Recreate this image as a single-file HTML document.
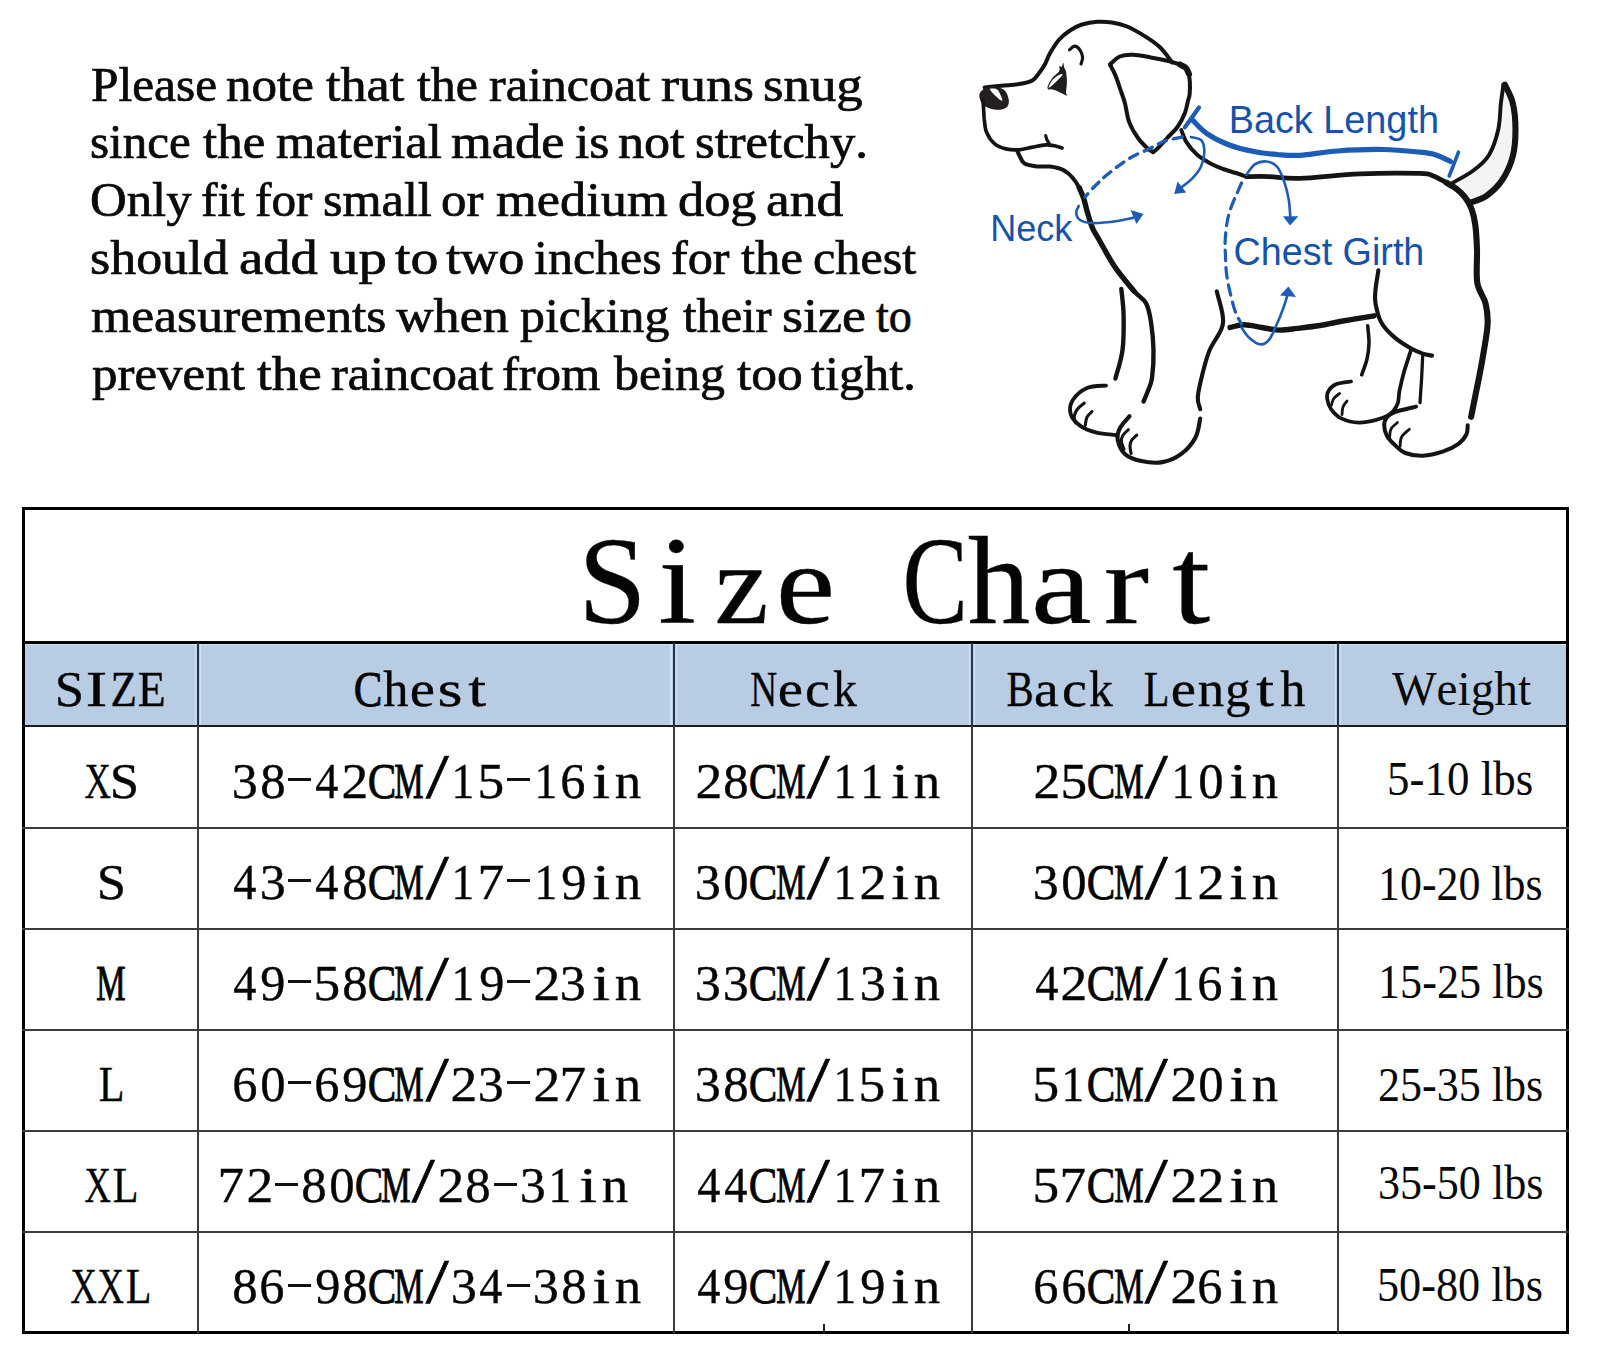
<!DOCTYPE html>
<html><head><meta charset="utf-8"><style>
html,body{margin:0;padding:0;background:#fff;font-kerning:none;font-variant-ligatures:none;}
body{width:1600px;height:1358px;position:relative;overflow:hidden;}
.t,.m,.r{position:absolute;white-space:pre;}
.t{font-family:"Liberation Serif",serif;line-height:1;color:#0a0a0a;transform-origin:0 0;}
.m{font-family:"Liberation Serif",serif;line-height:1;color:#050505;-webkit-text-stroke:0.35px #050505;}
.p{color:#0a0a0a;-webkit-text-stroke:0.75px #0a0a0a;}
.s{font-family:"Liberation Sans",sans-serif;}
</style></head><body>
<div class="r" style="left:25.0px;top:643.5px;width:1541.0px;height:82.0px;background:#b8cce4"></div>
<div class="r" style="left:25.0px;top:643.6px;width:1541.0px;height:1.6px;background:#d3e1f3"></div>
<div class="r" style="left:194.8px;top:644.0px;width:1.2px;height:81.0px;background:#d3e1f3"></div>
<div class="r" style="left:200.0px;top:644.0px;width:1.2px;height:81.0px;background:#d3e1f3"></div>
<div class="r" style="left:670.4px;top:644.0px;width:1.2px;height:81.0px;background:#d3e1f3"></div>
<div class="r" style="left:675.6px;top:644.0px;width:1.2px;height:81.0px;background:#d3e1f3"></div>
<div class="r" style="left:968.9px;top:644.0px;width:1.2px;height:81.0px;background:#d3e1f3"></div>
<div class="r" style="left:974.1px;top:644.0px;width:1.2px;height:81.0px;background:#d3e1f3"></div>
<div class="r" style="left:1334.6px;top:644.0px;width:1.2px;height:81.0px;background:#d3e1f3"></div>
<div class="r" style="left:1339.8px;top:644.0px;width:1.2px;height:81.0px;background:#d3e1f3"></div>
<div class="r" style="left:22.0px;top:507.0px;width:1547.0px;height:3.0px;background:#000"></div>
<div class="r" style="left:22.0px;top:1331.0px;width:1547.0px;height:3.0px;background:#000"></div>
<div class="r" style="left:22.0px;top:507.0px;width:3.0px;height:827.0px;background:#000"></div>
<div class="r" style="left:1566.0px;top:507.0px;width:3.0px;height:827.0px;background:#000"></div>
<div class="r" style="left:22.0px;top:641.0px;width:1547.0px;height:2.6px;background:#000"></div>
<div class="r" style="left:22.0px;top:725.0px;width:1547.0px;height:2.0px;background:#1a1a1a"></div>
<div class="r" style="left:22.0px;top:826.6px;width:1547.0px;height:2.2px;background:#3c3c3c"></div>
<div class="r" style="left:22.0px;top:927.6px;width:1547.0px;height:2.2px;background:#3c3c3c"></div>
<div class="r" style="left:22.0px;top:1028.7px;width:1547.0px;height:2.2px;background:#3c3c3c"></div>
<div class="r" style="left:22.0px;top:1129.8px;width:1547.0px;height:2.2px;background:#3c3c3c"></div>
<div class="r" style="left:22.0px;top:1230.8px;width:1547.0px;height:2.2px;background:#3c3c3c"></div>
<div class="r" style="left:196.9px;top:643.0px;width:2.2px;height:83.0px;background:#2a3748"></div>
<div class="r" style="left:196.9px;top:726.0px;width:2.2px;height:607.0px;background:#3c3c3c"></div>
<div class="r" style="left:672.5px;top:643.0px;width:2.2px;height:83.0px;background:#2a3748"></div>
<div class="r" style="left:672.5px;top:726.0px;width:2.2px;height:607.0px;background:#3c3c3c"></div>
<div class="r" style="left:971.0px;top:643.0px;width:2.2px;height:83.0px;background:#2a3748"></div>
<div class="r" style="left:971.0px;top:726.0px;width:2.2px;height:607.0px;background:#3c3c3c"></div>
<div class="r" style="left:1336.7px;top:643.0px;width:2.2px;height:83.0px;background:#2a3748"></div>
<div class="r" style="left:1336.7px;top:726.0px;width:2.2px;height:607.0px;background:#3c3c3c"></div>
<div class="r" style="left:823.1px;top:1323.5px;width:2.0px;height:8.5px;background:#202020"></div>
<div class="r" style="left:1128.0px;top:1323.5px;width:2.0px;height:8.5px;background:#202020"></div>
<div class="t p" style="left:90.58px;top:58.66px;font-size:50.20px;transform-origin:0 42.04px;transform:scale(0.9835,0.955)">Please</div>
<div class="t p" style="left:226.33px;top:58.66px;font-size:50.20px;transform-origin:0 42.04px;transform:scale(1.0175,0.955)">note</div>
<div class="t p" style="left:325.74px;top:58.66px;font-size:50.20px;transform-origin:0 42.04px;transform:scale(1.0404,0.955)">that</div>
<div class="t p" style="left:417.01px;top:58.66px;font-size:50.20px;transform-origin:0 42.04px;transform:scale(0.9941,0.955)">the</div>
<div class="t p" style="left:489.00px;top:58.66px;font-size:50.20px;transform-origin:0 42.04px;transform:scale(0.9978,0.955)">raincoat</div>
<div class="t p" style="left:661.42px;top:58.66px;font-size:50.20px;transform-origin:0 42.04px;transform:scale(1.0761,0.955)">runs</div>
<div class="t p" style="left:762.84px;top:58.66px;font-size:50.20px;transform-origin:0 42.04px;transform:scale(1.0510,0.955)">snug</div>
<div class="t p" style="left:90.49px;top:116.46px;font-size:50.20px;transform-origin:0 42.04px;transform:scale(0.9764,0.955)">since</div>
<div class="t p" style="left:203.25px;top:116.46px;font-size:50.20px;transform-origin:0 42.04px;transform:scale(1.0153,0.955)">the</div>
<div class="t p" style="left:276.44px;top:116.46px;font-size:50.20px;transform-origin:0 42.04px;transform:scale(1.0084,0.955)">material</div>
<div class="t p" style="left:451.40px;top:116.46px;font-size:50.20px;transform-origin:0 42.04px;transform:scale(1.0452,0.955)">made</div>
<div class="t p" style="left:575.02px;top:116.46px;font-size:50.20px;transform-origin:0 42.04px;transform:scale(1.0289,0.955)">is</div>
<div class="t p" style="left:617.90px;top:116.46px;font-size:50.20px;transform-origin:0 42.04px;transform:scale(1.0383,0.955)">not</div>
<div class="t p" style="left:694.92px;top:116.46px;font-size:50.20px;transform-origin:0 42.04px;transform:scale(1.0085,0.955)">stretchy.</div>
<div class="t p" style="left:89.92px;top:174.26px;font-size:50.20px;transform-origin:0 42.04px;transform:scale(1.0113,0.955)">Only</div>
<div class="t p" style="left:201.48px;top:174.26px;font-size:50.20px;transform-origin:0 42.04px;transform:scale(0.9819,0.955)">fit</div>
<div class="t p" style="left:255.48px;top:174.26px;font-size:50.20px;transform-origin:0 42.04px;transform:scale(0.9815,0.955)">for</div>
<div class="t p" style="left:323.44px;top:174.26px;font-size:50.20px;transform-origin:0 42.04px;transform:scale(1.0005,0.955)">small</div>
<div class="t p" style="left:440.56px;top:174.26px;font-size:50.20px;transform-origin:0 42.04px;transform:scale(1.0136,0.955)">or</div>
<div class="t p" style="left:496.10px;top:174.26px;font-size:50.20px;transform-origin:0 42.04px;transform:scale(1.0437,0.955)">medium</div>
<div class="t p" style="left:677.51px;top:174.26px;font-size:50.20px;transform-origin:0 42.04px;transform:scale(1.0423,0.955)">dog</div>
<div class="t p" style="left:766.12px;top:174.26px;font-size:50.20px;transform-origin:0 42.04px;transform:scale(1.0641,0.955)">and</div>
<div class="t p" style="left:90.22px;top:232.06px;font-size:50.20px;transform-origin:0 42.04px;transform:scale(1.0338,0.955)">should</div>
<div class="t p" style="left:239.28px;top:232.06px;font-size:50.20px;transform-origin:0 42.04px;transform:scale(1.0855,0.955)">add</div>
<div class="t p" style="left:329.65px;top:232.06px;font-size:50.20px;transform-origin:0 42.04px;transform:scale(1.1308,0.955)">up</div>
<div class="t p" style="left:395.46px;top:232.06px;font-size:50.20px;transform-origin:0 42.04px;transform:scale(1.1107,0.955)">to</div>
<div class="t p" style="left:446.39px;top:232.06px;font-size:50.20px;transform-origin:0 42.04px;transform:scale(1.0398,0.955)">two</div>
<div class="t p" style="left:533.95px;top:232.06px;font-size:50.20px;transform-origin:0 42.04px;transform:scale(0.9962,0.955)">inches</div>
<div class="t p" style="left:671.25px;top:232.06px;font-size:50.20px;transform-origin:0 42.04px;transform:scale(1.0009,0.955)">for</div>
<div class="t p" style="left:741.20px;top:232.06px;font-size:50.20px;transform-origin:0 42.04px;transform:scale(1.0102,0.955)">the</div>
<div class="t p" style="left:813.29px;top:232.06px;font-size:50.20px;transform-origin:0 42.04px;transform:scale(1.0006,0.955)">chest</div>
<div class="t p" style="left:90.52px;top:289.86px;font-size:50.20px;transform-origin:0 42.04px;transform:scale(1.0292,0.955)">measurements</div>
<div class="t p" style="left:395.55px;top:289.86px;font-size:50.20px;transform-origin:0 42.04px;transform:scale(1.0378,0.955)">when</div>
<div class="t p" style="left:520.20px;top:289.86px;font-size:50.20px;transform-origin:0 42.04px;transform:scale(0.9919,0.955)">picking</div>
<div class="t p" style="left:682.53px;top:289.86px;font-size:50.20px;transform-origin:0 42.04px;transform:scale(0.9642,0.955)">their</div>
<div class="t p" style="left:782.08px;top:289.86px;font-size:50.20px;transform-origin:0 42.04px;transform:scale(1.0775,0.955)">size</div>
<div class="t p" style="left:875.65px;top:289.86px;font-size:50.20px;transform-origin:0 42.04px;transform:scale(0.9196,0.955)">to</div>
<div class="t p" style="left:91.88px;top:347.66px;font-size:50.20px;transform-origin:0 42.04px;transform:scale(1.0159,0.955)">prevent</div>
<div class="t p" style="left:257.18px;top:347.66px;font-size:50.20px;transform-origin:0 42.04px;transform:scale(1.0559,0.955)">the</div>
<div class="t p" style="left:331.49px;top:347.66px;font-size:50.20px;transform-origin:0 42.04px;transform:scale(1.0034,0.955)">raincoat</div>
<div class="t p" style="left:502.44px;top:347.66px;font-size:50.20px;transform-origin:0 42.04px;transform:scale(1.0078,0.955)">from</div>
<div class="t p" style="left:613.80px;top:347.66px;font-size:50.20px;transform-origin:0 42.04px;transform:scale(0.9948,0.955)">being</div>
<div class="t p" style="left:737.00px;top:347.66px;font-size:50.20px;transform-origin:0 42.04px;transform:scale(1.0252,0.955)">too</div>
<div class="t p" style="left:811.31px;top:347.66px;font-size:50.20px;transform-origin:0 42.04px;transform:scale(1.0021,0.955)">tight.</div>
<span class="m" style="left:577.97px;top:520.16px;font-size:124.0px;transform-origin:34.78px 103.85px;transform:scale(0.991,1.000);">S</span>
<span class="m" style="left:659.70px;top:520.16px;font-size:124.0px;transform-origin:17.35px 103.85px;transform:scale(1.100,1.000);">i</span>
<span class="m" style="left:713.89px;top:520.16px;font-size:124.0px;transform-origin:27.46px 103.85px;transform:scale(0.984,0.930);">z</span>
<span class="m" style="left:777.86px;top:520.16px;font-size:124.0px;transform-origin:27.79px 103.85px;transform:scale(1.079,0.930);">e</span>
<span class="m" style="left:893.77px;top:520.16px;font-size:124.0px;transform-origin:40.48px 103.85px;transform:scale(0.791,1.000);">C</span>
<span class="m" style="left:967.76px;top:520.16px;font-size:124.0px;transform-origin:30.79px 103.85px;transform:scale(1.006,1.000);">h</span>
<span class="m" style="left:1034.00px;top:520.16px;font-size:124.0px;transform-origin:28.85px 103.85px;transform:scale(1.100,0.930);">a</span>
<span class="m" style="left:1105.81px;top:520.16px;font-size:124.0px;transform-origin:21.34px 103.85px;transform:scale(1.100,0.930);">r</span>
<span class="m" style="left:1173.98px;top:520.16px;font-size:124.0px;transform-origin:17.47px 103.85px;transform:scale(1.100,1.000);">t</span>
<span class="m" style="left:54.60px;top:663.07px;font-size:51.5px;transform-origin:14.45px 43.13px;transform:scale(1.023,1.000);">S</span>
<span class="m" style="left:87.80px;top:663.07px;font-size:51.5px;transform-origin:8.60px 43.13px;transform:scale(1.250,1.000);">I</span>
<span class="m" style="left:108.20px;top:663.07px;font-size:51.5px;transform-origin:15.55px 43.13px;transform:scale(0.840,1.000);">Z</span>
<span class="m" style="left:135.91px;top:663.07px;font-size:51.5px;transform-origin:15.19px 43.13px;transform:scale(0.890,1.000);">E</span>
<span class="m" style="left:351.44px;top:663.07px;font-size:51.5px;transform-origin:16.81px 43.13px;transform:scale(0.833,1.000);-webkit-text-stroke:0.8px #050505;">C</span>
<span class="m" style="left:382.81px;top:663.07px;font-size:51.5px;transform-origin:12.79px 43.13px;transform:scale(0.977,1.000);">h</span>
<span class="m" style="left:411.41px;top:663.07px;font-size:51.5px;transform-origin:11.54px 43.13px;transform:scale(1.102,1.000);">e</span>
<span class="m" style="left:440.15px;top:663.07px;font-size:51.5px;transform-origin:10.15px 43.13px;transform:scale(1.250,1.000);">s</span>
<span class="m" style="left:470.40px;top:663.07px;font-size:51.5px;transform-origin:7.25px 43.13px;transform:scale(1.250,1.000);">t</span>
<span class="m" style="left:744.65px;top:663.07px;font-size:51.5px;transform-origin:18.75px 43.13px;transform:scale(0.724,1.000);">N</span>
<span class="m" style="left:779.21px;top:663.07px;font-size:51.5px;transform-origin:11.54px 43.13px;transform:scale(1.102,1.000);">e</span>
<span class="m" style="left:806.48px;top:663.07px;font-size:51.5px;transform-origin:11.62px 43.13px;transform:scale(1.087,1.000);">c</span>
<span class="m" style="left:832.08px;top:663.07px;font-size:51.5px;transform-origin:13.37px 43.13px;transform:scale(0.929,1.000);">k</span>
<span class="m" style="left:1002.84px;top:663.07px;font-size:51.5px;transform-origin:16.66px 43.13px;transform:scale(0.791,1.000);">B</span>
<span class="m" style="left:1034.87px;top:663.07px;font-size:51.5px;transform-origin:11.98px 43.13px;transform:scale(1.081,1.000);">a</span>
<span class="m" style="left:1062.58px;top:663.07px;font-size:51.5px;transform-origin:11.62px 43.13px;transform:scale(1.087,1.000);">c</span>
<span class="m" style="left:1088.18px;top:663.07px;font-size:51.5px;transform-origin:13.37px 43.13px;transform:scale(0.929,1.000);">k</span>
<span class="m" style="left:1141.33px;top:663.07px;font-size:51.5px;transform-origin:14.92px 43.13px;transform:scale(0.818,1.000);">L</span>
<span class="m" style="left:1172.06px;top:663.07px;font-size:51.5px;transform-origin:11.54px 43.13px;transform:scale(1.102,1.000);">e</span>
<span class="m" style="left:1197.87px;top:663.07px;font-size:51.5px;transform-origin:13.08px 43.13px;transform:scale(1.026,1.000);">n</span>
<span class="m" style="left:1224.81px;top:663.07px;font-size:51.5px;transform-origin:13.49px 43.13px;transform:scale(0.975,1.000);">g</span>
<span class="m" style="left:1258.40px;top:663.07px;font-size:51.5px;transform-origin:7.25px 43.13px;transform:scale(1.250,1.000);">t</span>
<span class="m" style="left:1280.21px;top:663.07px;font-size:51.5px;transform-origin:12.79px 43.13px;transform:scale(0.977,1.000);">h</span>
<span class="m" style="left:78.63px;top:755.17px;font-size:51.5px;transform-origin:18.70px 43.13px;transform:scale(0.712,1.000);">X</span>
<span class="m" style="left:110.23px;top:755.17px;font-size:51.5px;transform-origin:14.45px 43.13px;transform:scale(1.023,1.000);">S</span>
<span class="m" style="left:232.15px;top:755.17px;font-size:51.5px;transform-origin:13.10px 43.13px;transform:scale(1.011,1.000);">3</span>
<span class="m" style="left:259.73px;top:755.17px;font-size:51.5px;transform-origin:12.88px 43.13px;transform:scale(0.985,1.000);">8</span>
<div class="r" style="left:288.45px;top:778.30px;width:23.00px;height:3.00px;background:#111"></div>
<span class="m" style="left:314.32px;top:755.17px;font-size:51.5px;transform-origin:12.98px 43.13px;transform:scale(0.898,1.000);">4</span>
<span class="m" style="left:342.06px;top:755.17px;font-size:51.5px;transform-origin:12.59px 43.13px;transform:scale(1.041,1.000);">2</span>
<span class="m" style="left:365.19px;top:755.17px;font-size:51.5px;transform-origin:16.81px 43.13px;transform:scale(0.833,1.000);-webkit-text-stroke:0.8px #050505;">C</span>
<span class="m" style="left:386.47px;top:755.17px;font-size:51.5px;transform-origin:22.88px 43.13px;transform:scale(0.640,1.000);-webkit-text-stroke:1.1px #050505;">M</span>
<span class="m" style="left:429.55px;top:755.17px;font-size:51.5px;transform-origin:7.15px 43.13px;transform:scale(1.607,1.220);-webkit-text-stroke:0.5px #050505;">/</span>
<span class="m" style="left:450.46px;top:755.17px;font-size:51.5px;transform-origin:13.59px 43.13px;transform:scale(0.882,1.000);">1</span>
<span class="m" style="left:478.03px;top:755.17px;font-size:51.5px;transform-origin:13.37px 43.13px;transform:scale(1.036,1.000);">5</span>
<div class="r" style="left:507.25px;top:778.30px;width:23.00px;height:3.00px;background:#111"></div>
<span class="m" style="left:532.51px;top:755.17px;font-size:51.5px;transform-origin:13.59px 43.13px;transform:scale(0.882,1.000);">1</span>
<span class="m" style="left:560.24px;top:755.17px;font-size:51.5px;transform-origin:13.21px 43.13px;transform:scale(0.977,1.000);">6</span>
<span class="m" style="left:593.60px;top:755.17px;font-size:51.5px;transform-origin:7.20px 43.13px;transform:scale(1.250,1.000);">i</span>
<span class="m" style="left:615.07px;top:755.17px;font-size:51.5px;transform-origin:13.08px 43.13px;transform:scale(1.026,1.000);">n</span>
<span class="m" style="left:695.96px;top:755.17px;font-size:51.5px;transform-origin:12.59px 43.13px;transform:scale(1.041,1.000);">2</span>
<span class="m" style="left:723.02px;top:755.17px;font-size:51.5px;transform-origin:12.88px 43.13px;transform:scale(0.985,1.000);">8</span>
<span class="m" style="left:746.44px;top:755.17px;font-size:51.5px;transform-origin:16.81px 43.13px;transform:scale(0.833,1.000);-webkit-text-stroke:0.8px #050505;">C</span>
<span class="m" style="left:767.72px;top:755.17px;font-size:51.5px;transform-origin:22.88px 43.13px;transform:scale(0.640,1.000);-webkit-text-stroke:1.1px #050505;">M</span>
<span class="m" style="left:810.80px;top:755.17px;font-size:51.5px;transform-origin:7.15px 43.13px;transform:scale(1.607,1.220);-webkit-text-stroke:0.5px #050505;">/</span>
<span class="m" style="left:831.71px;top:755.17px;font-size:51.5px;transform-origin:13.59px 43.13px;transform:scale(0.882,1.000);">1</span>
<span class="m" style="left:859.06px;top:755.17px;font-size:51.5px;transform-origin:13.59px 43.13px;transform:scale(0.882,1.000);">1</span>
<span class="m" style="left:892.80px;top:755.17px;font-size:51.5px;transform-origin:7.20px 43.13px;transform:scale(1.250,1.000);">i</span>
<span class="m" style="left:914.27px;top:755.17px;font-size:51.5px;transform-origin:13.08px 43.13px;transform:scale(1.026,1.000);">n</span>
<span class="m" style="left:1033.96px;top:755.17px;font-size:51.5px;transform-origin:12.59px 43.13px;transform:scale(1.041,1.000);">2</span>
<span class="m" style="left:1060.53px;top:755.17px;font-size:51.5px;transform-origin:13.37px 43.13px;transform:scale(1.036,1.000);">5</span>
<span class="m" style="left:1084.44px;top:755.17px;font-size:51.5px;transform-origin:16.81px 43.13px;transform:scale(0.833,1.000);-webkit-text-stroke:0.8px #050505;">C</span>
<span class="m" style="left:1105.72px;top:755.17px;font-size:51.5px;transform-origin:22.88px 43.13px;transform:scale(0.640,1.000);-webkit-text-stroke:1.1px #050505;">M</span>
<span class="m" style="left:1148.80px;top:755.17px;font-size:51.5px;transform-origin:7.15px 43.13px;transform:scale(1.607,1.220);-webkit-text-stroke:0.5px #050505;">/</span>
<span class="m" style="left:1169.71px;top:755.17px;font-size:51.5px;transform-origin:13.59px 43.13px;transform:scale(0.882,1.000);">1</span>
<span class="m" style="left:1197.77px;top:755.17px;font-size:51.5px;transform-origin:12.88px 43.13px;transform:scale(0.985,1.000);">0</span>
<span class="m" style="left:1230.80px;top:755.17px;font-size:51.5px;transform-origin:7.20px 43.13px;transform:scale(1.250,1.000);">i</span>
<span class="m" style="left:1252.27px;top:755.17px;font-size:51.5px;transform-origin:13.08px 43.13px;transform:scale(1.026,1.000);">n</span>
<div class="t" style="left:1387.39px;top:754.60px;font-size:48.0px;transform:scaleX(0.9368)">5-10 lbs</div>
<span class="m" style="left:96.55px;top:856.22px;font-size:51.5px;transform-origin:14.45px 43.13px;transform:scale(1.023,1.000);">S</span>
<span class="m" style="left:232.27px;top:856.22px;font-size:51.5px;transform-origin:12.98px 43.13px;transform:scale(0.898,1.000);">4</span>
<span class="m" style="left:259.50px;top:856.22px;font-size:51.5px;transform-origin:13.10px 43.13px;transform:scale(1.011,1.000);">3</span>
<div class="r" style="left:288.45px;top:879.35px;width:23.00px;height:3.00px;background:#111"></div>
<span class="m" style="left:314.32px;top:856.22px;font-size:51.5px;transform-origin:12.98px 43.13px;transform:scale(0.898,1.000);">4</span>
<span class="m" style="left:341.78px;top:856.22px;font-size:51.5px;transform-origin:12.88px 43.13px;transform:scale(0.985,1.000);">8</span>
<span class="m" style="left:365.19px;top:856.22px;font-size:51.5px;transform-origin:16.81px 43.13px;transform:scale(0.833,1.000);-webkit-text-stroke:0.8px #050505;">C</span>
<span class="m" style="left:386.47px;top:856.22px;font-size:51.5px;transform-origin:22.88px 43.13px;transform:scale(0.640,1.000);-webkit-text-stroke:1.1px #050505;">M</span>
<span class="m" style="left:429.55px;top:856.22px;font-size:51.5px;transform-origin:7.15px 43.13px;transform:scale(1.607,1.220);-webkit-text-stroke:0.5px #050505;">/</span>
<span class="m" style="left:450.46px;top:856.22px;font-size:51.5px;transform-origin:13.59px 43.13px;transform:scale(0.882,1.000);">1</span>
<span class="m" style="left:477.57px;top:856.22px;font-size:51.5px;transform-origin:13.83px 43.13px;transform:scale(1.030,1.000);">7</span>
<div class="r" style="left:507.25px;top:879.35px;width:23.00px;height:3.00px;background:#111"></div>
<span class="m" style="left:532.51px;top:856.22px;font-size:51.5px;transform-origin:13.59px 43.13px;transform:scale(0.882,1.000);">1</span>
<span class="m" style="left:560.80px;top:856.22px;font-size:51.5px;transform-origin:12.65px 43.13px;transform:scale(0.978,1.000);">9</span>
<span class="m" style="left:593.60px;top:856.22px;font-size:51.5px;transform-origin:7.20px 43.13px;transform:scale(1.250,1.000);">i</span>
<span class="m" style="left:615.07px;top:856.22px;font-size:51.5px;transform-origin:13.08px 43.13px;transform:scale(1.026,1.000);">n</span>
<span class="m" style="left:695.45px;top:856.22px;font-size:51.5px;transform-origin:13.10px 43.13px;transform:scale(1.011,1.000);">3</span>
<span class="m" style="left:723.02px;top:856.22px;font-size:51.5px;transform-origin:12.88px 43.13px;transform:scale(0.985,1.000);">0</span>
<span class="m" style="left:746.44px;top:856.22px;font-size:51.5px;transform-origin:16.81px 43.13px;transform:scale(0.833,1.000);-webkit-text-stroke:0.8px #050505;">C</span>
<span class="m" style="left:767.72px;top:856.22px;font-size:51.5px;transform-origin:22.88px 43.13px;transform:scale(0.640,1.000);-webkit-text-stroke:1.1px #050505;">M</span>
<span class="m" style="left:810.80px;top:856.22px;font-size:51.5px;transform-origin:7.15px 43.13px;transform:scale(1.607,1.220);-webkit-text-stroke:0.5px #050505;">/</span>
<span class="m" style="left:831.71px;top:856.22px;font-size:51.5px;transform-origin:13.59px 43.13px;transform:scale(0.882,1.000);">1</span>
<span class="m" style="left:860.06px;top:856.22px;font-size:51.5px;transform-origin:12.59px 43.13px;transform:scale(1.041,1.000);">2</span>
<span class="m" style="left:892.80px;top:856.22px;font-size:51.5px;transform-origin:7.20px 43.13px;transform:scale(1.250,1.000);">i</span>
<span class="m" style="left:914.27px;top:856.22px;font-size:51.5px;transform-origin:13.08px 43.13px;transform:scale(1.026,1.000);">n</span>
<span class="m" style="left:1033.45px;top:856.22px;font-size:51.5px;transform-origin:13.10px 43.13px;transform:scale(1.011,1.000);">3</span>
<span class="m" style="left:1061.02px;top:856.22px;font-size:51.5px;transform-origin:12.88px 43.13px;transform:scale(0.985,1.000);">0</span>
<span class="m" style="left:1084.44px;top:856.22px;font-size:51.5px;transform-origin:16.81px 43.13px;transform:scale(0.833,1.000);-webkit-text-stroke:0.8px #050505;">C</span>
<span class="m" style="left:1105.72px;top:856.22px;font-size:51.5px;transform-origin:22.88px 43.13px;transform:scale(0.640,1.000);-webkit-text-stroke:1.1px #050505;">M</span>
<span class="m" style="left:1148.80px;top:856.22px;font-size:51.5px;transform-origin:7.15px 43.13px;transform:scale(1.607,1.220);-webkit-text-stroke:0.5px #050505;">/</span>
<span class="m" style="left:1169.71px;top:856.22px;font-size:51.5px;transform-origin:13.59px 43.13px;transform:scale(0.882,1.000);">1</span>
<span class="m" style="left:1198.06px;top:856.22px;font-size:51.5px;transform-origin:12.59px 43.13px;transform:scale(1.041,1.000);">2</span>
<span class="m" style="left:1230.80px;top:856.22px;font-size:51.5px;transform-origin:7.20px 43.13px;transform:scale(1.250,1.000);">i</span>
<span class="m" style="left:1252.27px;top:856.22px;font-size:51.5px;transform-origin:13.08px 43.13px;transform:scale(1.026,1.000);">n</span>
<div class="t" style="left:1377.64px;top:859.50px;font-size:48.0px;transform:scaleX(0.9141)">10-20 lbs</div>
<span class="m" style="left:88.12px;top:957.27px;font-size:51.5px;transform-origin:22.88px 43.13px;transform:scale(0.640,1.000);-webkit-text-stroke:1.1px #050505;">M</span>
<span class="m" style="left:232.27px;top:957.27px;font-size:51.5px;transform-origin:12.98px 43.13px;transform:scale(0.898,1.000);">4</span>
<span class="m" style="left:259.95px;top:957.27px;font-size:51.5px;transform-origin:12.65px 43.13px;transform:scale(0.978,1.000);">9</span>
<div class="r" style="left:288.45px;top:980.40px;width:23.00px;height:3.00px;background:#111"></div>
<span class="m" style="left:313.93px;top:957.27px;font-size:51.5px;transform-origin:13.37px 43.13px;transform:scale(1.036,1.000);">5</span>
<span class="m" style="left:341.78px;top:957.27px;font-size:51.5px;transform-origin:12.88px 43.13px;transform:scale(0.985,1.000);">8</span>
<span class="m" style="left:365.19px;top:957.27px;font-size:51.5px;transform-origin:16.81px 43.13px;transform:scale(0.833,1.000);-webkit-text-stroke:0.8px #050505;">C</span>
<span class="m" style="left:386.47px;top:957.27px;font-size:51.5px;transform-origin:22.88px 43.13px;transform:scale(0.640,1.000);-webkit-text-stroke:1.1px #050505;">M</span>
<span class="m" style="left:429.55px;top:957.27px;font-size:51.5px;transform-origin:7.15px 43.13px;transform:scale(1.607,1.220);-webkit-text-stroke:0.5px #050505;">/</span>
<span class="m" style="left:450.46px;top:957.27px;font-size:51.5px;transform-origin:13.59px 43.13px;transform:scale(0.882,1.000);">1</span>
<span class="m" style="left:478.75px;top:957.27px;font-size:51.5px;transform-origin:12.65px 43.13px;transform:scale(0.978,1.000);">9</span>
<div class="r" style="left:507.25px;top:980.40px;width:23.00px;height:3.00px;background:#111"></div>
<span class="m" style="left:533.51px;top:957.27px;font-size:51.5px;transform-origin:12.59px 43.13px;transform:scale(1.041,1.000);">2</span>
<span class="m" style="left:560.35px;top:957.27px;font-size:51.5px;transform-origin:13.10px 43.13px;transform:scale(1.011,1.000);">3</span>
<span class="m" style="left:593.60px;top:957.27px;font-size:51.5px;transform-origin:7.20px 43.13px;transform:scale(1.250,1.000);">i</span>
<span class="m" style="left:615.07px;top:957.27px;font-size:51.5px;transform-origin:13.08px 43.13px;transform:scale(1.026,1.000);">n</span>
<span class="m" style="left:695.45px;top:957.27px;font-size:51.5px;transform-origin:13.10px 43.13px;transform:scale(1.011,1.000);">3</span>
<span class="m" style="left:722.80px;top:957.27px;font-size:51.5px;transform-origin:13.10px 43.13px;transform:scale(1.011,1.000);">3</span>
<span class="m" style="left:746.44px;top:957.27px;font-size:51.5px;transform-origin:16.81px 43.13px;transform:scale(0.833,1.000);-webkit-text-stroke:0.8px #050505;">C</span>
<span class="m" style="left:767.72px;top:957.27px;font-size:51.5px;transform-origin:22.88px 43.13px;transform:scale(0.640,1.000);-webkit-text-stroke:1.1px #050505;">M</span>
<span class="m" style="left:810.80px;top:957.27px;font-size:51.5px;transform-origin:7.15px 43.13px;transform:scale(1.607,1.220);-webkit-text-stroke:0.5px #050505;">/</span>
<span class="m" style="left:831.71px;top:957.27px;font-size:51.5px;transform-origin:13.59px 43.13px;transform:scale(0.882,1.000);">1</span>
<span class="m" style="left:859.55px;top:957.27px;font-size:51.5px;transform-origin:13.10px 43.13px;transform:scale(1.011,1.000);">3</span>
<span class="m" style="left:892.80px;top:957.27px;font-size:51.5px;transform-origin:7.20px 43.13px;transform:scale(1.250,1.000);">i</span>
<span class="m" style="left:914.27px;top:957.27px;font-size:51.5px;transform-origin:13.08px 43.13px;transform:scale(1.026,1.000);">n</span>
<span class="m" style="left:1033.57px;top:957.27px;font-size:51.5px;transform-origin:12.98px 43.13px;transform:scale(0.898,1.000);">4</span>
<span class="m" style="left:1061.31px;top:957.27px;font-size:51.5px;transform-origin:12.59px 43.13px;transform:scale(1.041,1.000);">2</span>
<span class="m" style="left:1084.44px;top:957.27px;font-size:51.5px;transform-origin:16.81px 43.13px;transform:scale(0.833,1.000);-webkit-text-stroke:0.8px #050505;">C</span>
<span class="m" style="left:1105.72px;top:957.27px;font-size:51.5px;transform-origin:22.88px 43.13px;transform:scale(0.640,1.000);-webkit-text-stroke:1.1px #050505;">M</span>
<span class="m" style="left:1148.80px;top:957.27px;font-size:51.5px;transform-origin:7.15px 43.13px;transform:scale(1.607,1.220);-webkit-text-stroke:0.5px #050505;">/</span>
<span class="m" style="left:1169.71px;top:957.27px;font-size:51.5px;transform-origin:13.59px 43.13px;transform:scale(0.882,1.000);">1</span>
<span class="m" style="left:1197.44px;top:957.27px;font-size:51.5px;transform-origin:13.21px 43.13px;transform:scale(0.977,1.000);">6</span>
<span class="m" style="left:1230.80px;top:957.27px;font-size:51.5px;transform-origin:7.20px 43.13px;transform:scale(1.250,1.000);">i</span>
<span class="m" style="left:1252.27px;top:957.27px;font-size:51.5px;transform-origin:13.08px 43.13px;transform:scale(1.026,1.000);">n</span>
<div class="t" style="left:1377.62px;top:957.60px;font-size:48.0px;transform:scaleX(0.9204)">15-25 lbs</div>
<span class="m" style="left:96.08px;top:1058.32px;font-size:51.5px;transform-origin:14.92px 43.13px;transform:scale(0.818,1.000);">L</span>
<span class="m" style="left:232.04px;top:1058.32px;font-size:51.5px;transform-origin:13.21px 43.13px;transform:scale(0.977,1.000);">6</span>
<span class="m" style="left:259.73px;top:1058.32px;font-size:51.5px;transform-origin:12.88px 43.13px;transform:scale(0.985,1.000);">0</span>
<div class="r" style="left:288.45px;top:1081.45px;width:23.00px;height:3.00px;background:#111"></div>
<span class="m" style="left:314.09px;top:1058.32px;font-size:51.5px;transform-origin:13.21px 43.13px;transform:scale(0.977,1.000);">6</span>
<span class="m" style="left:342.00px;top:1058.32px;font-size:51.5px;transform-origin:12.65px 43.13px;transform:scale(0.978,1.000);">9</span>
<span class="m" style="left:365.19px;top:1058.32px;font-size:51.5px;transform-origin:16.81px 43.13px;transform:scale(0.833,1.000);-webkit-text-stroke:0.8px #050505;">C</span>
<span class="m" style="left:386.47px;top:1058.32px;font-size:51.5px;transform-origin:22.88px 43.13px;transform:scale(0.640,1.000);-webkit-text-stroke:1.1px #050505;">M</span>
<span class="m" style="left:429.55px;top:1058.32px;font-size:51.5px;transform-origin:7.15px 43.13px;transform:scale(1.607,1.220);-webkit-text-stroke:0.5px #050505;">/</span>
<span class="m" style="left:451.46px;top:1058.32px;font-size:51.5px;transform-origin:12.59px 43.13px;transform:scale(1.041,1.000);">2</span>
<span class="m" style="left:478.30px;top:1058.32px;font-size:51.5px;transform-origin:13.10px 43.13px;transform:scale(1.011,1.000);">3</span>
<div class="r" style="left:507.25px;top:1081.45px;width:23.00px;height:3.00px;background:#111"></div>
<span class="m" style="left:533.51px;top:1058.32px;font-size:51.5px;transform-origin:12.59px 43.13px;transform:scale(1.041,1.000);">2</span>
<span class="m" style="left:559.62px;top:1058.32px;font-size:51.5px;transform-origin:13.83px 43.13px;transform:scale(1.030,1.000);">7</span>
<span class="m" style="left:593.60px;top:1058.32px;font-size:51.5px;transform-origin:7.20px 43.13px;transform:scale(1.250,1.000);">i</span>
<span class="m" style="left:615.07px;top:1058.32px;font-size:51.5px;transform-origin:13.08px 43.13px;transform:scale(1.026,1.000);">n</span>
<span class="m" style="left:695.45px;top:1058.32px;font-size:51.5px;transform-origin:13.10px 43.13px;transform:scale(1.011,1.000);">3</span>
<span class="m" style="left:723.02px;top:1058.32px;font-size:51.5px;transform-origin:12.88px 43.13px;transform:scale(0.985,1.000);">8</span>
<span class="m" style="left:746.44px;top:1058.32px;font-size:51.5px;transform-origin:16.81px 43.13px;transform:scale(0.833,1.000);-webkit-text-stroke:0.8px #050505;">C</span>
<span class="m" style="left:767.72px;top:1058.32px;font-size:51.5px;transform-origin:22.88px 43.13px;transform:scale(0.640,1.000);-webkit-text-stroke:1.1px #050505;">M</span>
<span class="m" style="left:810.80px;top:1058.32px;font-size:51.5px;transform-origin:7.15px 43.13px;transform:scale(1.607,1.220);-webkit-text-stroke:0.5px #050505;">/</span>
<span class="m" style="left:831.71px;top:1058.32px;font-size:51.5px;transform-origin:13.59px 43.13px;transform:scale(0.882,1.000);">1</span>
<span class="m" style="left:859.28px;top:1058.32px;font-size:51.5px;transform-origin:13.37px 43.13px;transform:scale(1.036,1.000);">5</span>
<span class="m" style="left:892.80px;top:1058.32px;font-size:51.5px;transform-origin:7.20px 43.13px;transform:scale(1.250,1.000);">i</span>
<span class="m" style="left:914.27px;top:1058.32px;font-size:51.5px;transform-origin:13.08px 43.13px;transform:scale(1.026,1.000);">n</span>
<span class="m" style="left:1033.18px;top:1058.32px;font-size:51.5px;transform-origin:13.37px 43.13px;transform:scale(1.036,1.000);">5</span>
<span class="m" style="left:1060.31px;top:1058.32px;font-size:51.5px;transform-origin:13.59px 43.13px;transform:scale(0.882,1.000);">1</span>
<span class="m" style="left:1084.44px;top:1058.32px;font-size:51.5px;transform-origin:16.81px 43.13px;transform:scale(0.833,1.000);-webkit-text-stroke:0.8px #050505;">C</span>
<span class="m" style="left:1105.72px;top:1058.32px;font-size:51.5px;transform-origin:22.88px 43.13px;transform:scale(0.640,1.000);-webkit-text-stroke:1.1px #050505;">M</span>
<span class="m" style="left:1148.80px;top:1058.32px;font-size:51.5px;transform-origin:7.15px 43.13px;transform:scale(1.607,1.220);-webkit-text-stroke:0.5px #050505;">/</span>
<span class="m" style="left:1170.71px;top:1058.32px;font-size:51.5px;transform-origin:12.59px 43.13px;transform:scale(1.041,1.000);">2</span>
<span class="m" style="left:1197.77px;top:1058.32px;font-size:51.5px;transform-origin:12.88px 43.13px;transform:scale(0.985,1.000);">0</span>
<span class="m" style="left:1230.80px;top:1058.32px;font-size:51.5px;transform-origin:7.20px 43.13px;transform:scale(1.250,1.000);">i</span>
<span class="m" style="left:1252.27px;top:1058.32px;font-size:51.5px;transform-origin:13.08px 43.13px;transform:scale(1.026,1.000);">n</span>
<div class="t" style="left:1378.06px;top:1061.10px;font-size:48.0px;transform:scaleX(0.9179)">25-35 lbs</div>
<span class="m" style="left:78.63px;top:1159.37px;font-size:51.5px;transform-origin:18.70px 43.13px;transform:scale(0.712,1.000);">X</span>
<span class="m" style="left:109.75px;top:1159.37px;font-size:51.5px;transform-origin:14.92px 43.13px;transform:scale(0.818,1.000);">L</span>
<span class="m" style="left:218.32px;top:1159.37px;font-size:51.5px;transform-origin:13.83px 43.13px;transform:scale(1.030,1.000);">7</span>
<span class="m" style="left:246.91px;top:1159.37px;font-size:51.5px;transform-origin:12.59px 43.13px;transform:scale(1.041,1.000);">2</span>
<div class="r" style="left:275.35px;top:1182.50px;width:23.00px;height:3.00px;background:#111"></div>
<span class="m" style="left:301.32px;top:1159.37px;font-size:51.5px;transform-origin:12.88px 43.13px;transform:scale(0.985,1.000);">8</span>
<span class="m" style="left:328.68px;top:1159.37px;font-size:51.5px;transform-origin:12.88px 43.13px;transform:scale(0.985,1.000);">0</span>
<span class="m" style="left:352.09px;top:1159.37px;font-size:51.5px;transform-origin:16.81px 43.13px;transform:scale(0.833,1.000);-webkit-text-stroke:0.8px #050505;">C</span>
<span class="m" style="left:373.37px;top:1159.37px;font-size:51.5px;transform-origin:22.88px 43.13px;transform:scale(0.640,1.000);-webkit-text-stroke:1.1px #050505;">M</span>
<span class="m" style="left:416.45px;top:1159.37px;font-size:51.5px;transform-origin:7.15px 43.13px;transform:scale(1.607,1.220);-webkit-text-stroke:0.5px #050505;">/</span>
<span class="m" style="left:438.36px;top:1159.37px;font-size:51.5px;transform-origin:12.59px 43.13px;transform:scale(1.041,1.000);">2</span>
<span class="m" style="left:465.43px;top:1159.37px;font-size:51.5px;transform-origin:12.88px 43.13px;transform:scale(0.985,1.000);">8</span>
<div class="r" style="left:494.15px;top:1182.50px;width:23.00px;height:3.00px;background:#111"></div>
<span class="m" style="left:519.90px;top:1159.37px;font-size:51.5px;transform-origin:13.10px 43.13px;transform:scale(1.011,1.000);">3</span>
<span class="m" style="left:546.76px;top:1159.37px;font-size:51.5px;transform-origin:13.59px 43.13px;transform:scale(0.882,1.000);">1</span>
<span class="m" style="left:580.50px;top:1159.37px;font-size:51.5px;transform-origin:7.20px 43.13px;transform:scale(1.250,1.000);">i</span>
<span class="m" style="left:601.97px;top:1159.37px;font-size:51.5px;transform-origin:13.08px 43.13px;transform:scale(1.026,1.000);">n</span>
<span class="m" style="left:695.57px;top:1159.37px;font-size:51.5px;transform-origin:12.98px 43.13px;transform:scale(0.898,1.000);">4</span>
<span class="m" style="left:722.92px;top:1159.37px;font-size:51.5px;transform-origin:12.98px 43.13px;transform:scale(0.898,1.000);">4</span>
<span class="m" style="left:746.44px;top:1159.37px;font-size:51.5px;transform-origin:16.81px 43.13px;transform:scale(0.833,1.000);-webkit-text-stroke:0.8px #050505;">C</span>
<span class="m" style="left:767.72px;top:1159.37px;font-size:51.5px;transform-origin:22.88px 43.13px;transform:scale(0.640,1.000);-webkit-text-stroke:1.1px #050505;">M</span>
<span class="m" style="left:810.80px;top:1159.37px;font-size:51.5px;transform-origin:7.15px 43.13px;transform:scale(1.607,1.220);-webkit-text-stroke:0.5px #050505;">/</span>
<span class="m" style="left:831.71px;top:1159.37px;font-size:51.5px;transform-origin:13.59px 43.13px;transform:scale(0.882,1.000);">1</span>
<span class="m" style="left:858.82px;top:1159.37px;font-size:51.5px;transform-origin:13.83px 43.13px;transform:scale(1.030,1.000);">7</span>
<span class="m" style="left:892.80px;top:1159.37px;font-size:51.5px;transform-origin:7.20px 43.13px;transform:scale(1.250,1.000);">i</span>
<span class="m" style="left:914.27px;top:1159.37px;font-size:51.5px;transform-origin:13.08px 43.13px;transform:scale(1.026,1.000);">n</span>
<span class="m" style="left:1033.18px;top:1159.37px;font-size:51.5px;transform-origin:13.37px 43.13px;transform:scale(1.036,1.000);">5</span>
<span class="m" style="left:1060.07px;top:1159.37px;font-size:51.5px;transform-origin:13.83px 43.13px;transform:scale(1.030,1.000);">7</span>
<span class="m" style="left:1084.44px;top:1159.37px;font-size:51.5px;transform-origin:16.81px 43.13px;transform:scale(0.833,1.000);-webkit-text-stroke:0.8px #050505;">C</span>
<span class="m" style="left:1105.72px;top:1159.37px;font-size:51.5px;transform-origin:22.88px 43.13px;transform:scale(0.640,1.000);-webkit-text-stroke:1.1px #050505;">M</span>
<span class="m" style="left:1148.80px;top:1159.37px;font-size:51.5px;transform-origin:7.15px 43.13px;transform:scale(1.607,1.220);-webkit-text-stroke:0.5px #050505;">/</span>
<span class="m" style="left:1170.71px;top:1159.37px;font-size:51.5px;transform-origin:12.59px 43.13px;transform:scale(1.041,1.000);">2</span>
<span class="m" style="left:1198.06px;top:1159.37px;font-size:51.5px;transform-origin:12.59px 43.13px;transform:scale(1.041,1.000);">2</span>
<span class="m" style="left:1230.80px;top:1159.37px;font-size:51.5px;transform-origin:7.20px 43.13px;transform:scale(1.250,1.000);">i</span>
<span class="m" style="left:1252.27px;top:1159.37px;font-size:51.5px;transform-origin:13.08px 43.13px;transform:scale(1.026,1.000);">n</span>
<div class="t" style="left:1377.89px;top:1159.20px;font-size:48.0px;transform:scaleX(0.9189)">35-50 lbs</div>
<span class="m" style="left:64.95px;top:1260.42px;font-size:51.5px;transform-origin:18.70px 43.13px;transform:scale(0.712,1.000);">X</span>
<span class="m" style="left:92.30px;top:1260.42px;font-size:51.5px;transform-origin:18.70px 43.13px;transform:scale(0.712,1.000);">X</span>
<span class="m" style="left:123.43px;top:1260.42px;font-size:51.5px;transform-origin:14.92px 43.13px;transform:scale(0.818,1.000);">L</span>
<span class="m" style="left:232.38px;top:1260.42px;font-size:51.5px;transform-origin:12.88px 43.13px;transform:scale(0.985,1.000);">8</span>
<span class="m" style="left:259.39px;top:1260.42px;font-size:51.5px;transform-origin:13.21px 43.13px;transform:scale(0.977,1.000);">6</span>
<div class="r" style="left:288.45px;top:1283.55px;width:23.00px;height:3.00px;background:#111"></div>
<span class="m" style="left:314.65px;top:1260.42px;font-size:51.5px;transform-origin:12.65px 43.13px;transform:scale(0.978,1.000);">9</span>
<span class="m" style="left:341.78px;top:1260.42px;font-size:51.5px;transform-origin:12.88px 43.13px;transform:scale(0.985,1.000);">8</span>
<span class="m" style="left:365.19px;top:1260.42px;font-size:51.5px;transform-origin:16.81px 43.13px;transform:scale(0.833,1.000);-webkit-text-stroke:0.8px #050505;">C</span>
<span class="m" style="left:386.47px;top:1260.42px;font-size:51.5px;transform-origin:22.88px 43.13px;transform:scale(0.640,1.000);-webkit-text-stroke:1.1px #050505;">M</span>
<span class="m" style="left:429.55px;top:1260.42px;font-size:51.5px;transform-origin:7.15px 43.13px;transform:scale(1.607,1.220);-webkit-text-stroke:0.5px #050505;">/</span>
<span class="m" style="left:450.95px;top:1260.42px;font-size:51.5px;transform-origin:13.10px 43.13px;transform:scale(1.011,1.000);">3</span>
<span class="m" style="left:478.42px;top:1260.42px;font-size:51.5px;transform-origin:12.98px 43.13px;transform:scale(0.898,1.000);">4</span>
<div class="r" style="left:507.25px;top:1283.55px;width:23.00px;height:3.00px;background:#111"></div>
<span class="m" style="left:533.00px;top:1260.42px;font-size:51.5px;transform-origin:13.10px 43.13px;transform:scale(1.011,1.000);">3</span>
<span class="m" style="left:560.58px;top:1260.42px;font-size:51.5px;transform-origin:12.88px 43.13px;transform:scale(0.985,1.000);">8</span>
<span class="m" style="left:593.60px;top:1260.42px;font-size:51.5px;transform-origin:7.20px 43.13px;transform:scale(1.250,1.000);">i</span>
<span class="m" style="left:615.07px;top:1260.42px;font-size:51.5px;transform-origin:13.08px 43.13px;transform:scale(1.026,1.000);">n</span>
<span class="m" style="left:695.57px;top:1260.42px;font-size:51.5px;transform-origin:12.98px 43.13px;transform:scale(0.898,1.000);">4</span>
<span class="m" style="left:723.25px;top:1260.42px;font-size:51.5px;transform-origin:12.65px 43.13px;transform:scale(0.978,1.000);">9</span>
<span class="m" style="left:746.44px;top:1260.42px;font-size:51.5px;transform-origin:16.81px 43.13px;transform:scale(0.833,1.000);-webkit-text-stroke:0.8px #050505;">C</span>
<span class="m" style="left:767.72px;top:1260.42px;font-size:51.5px;transform-origin:22.88px 43.13px;transform:scale(0.640,1.000);-webkit-text-stroke:1.1px #050505;">M</span>
<span class="m" style="left:810.80px;top:1260.42px;font-size:51.5px;transform-origin:7.15px 43.13px;transform:scale(1.607,1.220);-webkit-text-stroke:0.5px #050505;">/</span>
<span class="m" style="left:831.71px;top:1260.42px;font-size:51.5px;transform-origin:13.59px 43.13px;transform:scale(0.882,1.000);">1</span>
<span class="m" style="left:860.00px;top:1260.42px;font-size:51.5px;transform-origin:12.65px 43.13px;transform:scale(0.978,1.000);">9</span>
<span class="m" style="left:892.80px;top:1260.42px;font-size:51.5px;transform-origin:7.20px 43.13px;transform:scale(1.250,1.000);">i</span>
<span class="m" style="left:914.27px;top:1260.42px;font-size:51.5px;transform-origin:13.08px 43.13px;transform:scale(1.026,1.000);">n</span>
<span class="m" style="left:1033.34px;top:1260.42px;font-size:51.5px;transform-origin:13.21px 43.13px;transform:scale(0.977,1.000);">6</span>
<span class="m" style="left:1060.69px;top:1260.42px;font-size:51.5px;transform-origin:13.21px 43.13px;transform:scale(0.977,1.000);">6</span>
<span class="m" style="left:1084.44px;top:1260.42px;font-size:51.5px;transform-origin:16.81px 43.13px;transform:scale(0.833,1.000);-webkit-text-stroke:0.8px #050505;">C</span>
<span class="m" style="left:1105.72px;top:1260.42px;font-size:51.5px;transform-origin:22.88px 43.13px;transform:scale(0.640,1.000);-webkit-text-stroke:1.1px #050505;">M</span>
<span class="m" style="left:1148.80px;top:1260.42px;font-size:51.5px;transform-origin:7.15px 43.13px;transform:scale(1.607,1.220);-webkit-text-stroke:0.5px #050505;">/</span>
<span class="m" style="left:1170.71px;top:1260.42px;font-size:51.5px;transform-origin:12.59px 43.13px;transform:scale(1.041,1.000);">2</span>
<span class="m" style="left:1197.44px;top:1260.42px;font-size:51.5px;transform-origin:13.21px 43.13px;transform:scale(0.977,1.000);">6</span>
<span class="m" style="left:1230.80px;top:1260.42px;font-size:51.5px;transform-origin:7.20px 43.13px;transform:scale(1.250,1.000);">i</span>
<span class="m" style="left:1252.27px;top:1260.42px;font-size:51.5px;transform-origin:13.08px 43.13px;transform:scale(1.026,1.000);">n</span>
<div class="t" style="left:1377.43px;top:1261.40px;font-size:48.0px;transform:scaleX(0.9215)">50-80 lbs</div>
<div class="t" style="left:1391.85px;top:665.40px;font-size:48.0px;transform:scaleX(0.9840)">Weight</div>
<svg style="position:absolute;left:0;top:0" width="1600" height="480" viewBox="0 0 1600 480">
<path d="M1450.5,184.0 C1452.7,180.3 1466.6,175.7 1473.0,170.8 C1479.4,166.0 1484.8,161.8 1489.0,154.9 C1493.2,148.1 1496.2,138.3 1498.2,129.7 C1500.2,121.1 1500.0,110.6 1500.9,103.1 C1501.8,95.6 1502.8,87.7 1503.5,84.6 C1504.2,81.5 1503.4,81.5 1504.9,84.6 C1506.5,87.7 1511.0,95.6 1512.8,103.1 C1514.6,110.6 1515.5,120.8 1515.5,129.7 C1515.5,138.5 1515.0,147.8 1512.8,156.2 C1510.6,164.6 1506.6,173.4 1502.2,180.0 C1497.8,186.6 1491.6,192.2 1486.3,196.0 C1481.0,199.8 1474.8,203.1 1470.4,202.6 C1466.0,202.1 1463.3,196.1 1460.0,193.0 C1456.7,189.9 1448.3,187.7 1450.5,184.0Z" fill="#f4f4f4" />
<path d="M1450.5,184.0 C1454.2,181.8 1466.6,175.7 1473.0,170.8 C1479.4,166.0 1484.8,161.8 1489.0,154.9 C1493.2,148.1 1496.2,138.3 1498.2,129.7 C1500.2,121.1 1500.0,110.6 1500.9,103.1 C1501.8,95.6 1503.1,87.7 1503.5,84.6" fill="none" stroke="#141414" stroke-width="3.90" stroke-linecap="round" stroke-linejoin="round" />
<path d="M1503.5,84.6 C1503.8,84.7 1505.2,84.9 1505.5,85.0" fill="none" stroke="#141414" stroke-width="4.27" stroke-linecap="round" stroke-linejoin="round" />
<path d="M1504.9,84.6 C1506.2,87.7 1511.0,95.6 1512.8,103.1 C1514.6,110.6 1515.5,120.8 1515.5,129.7 C1515.5,138.5 1515.0,147.8 1512.8,156.2 C1510.6,164.6 1506.6,173.4 1502.2,180.0 C1497.8,186.6 1491.6,192.2 1486.3,196.0 C1481.0,199.8 1473.1,201.5 1470.4,202.6" fill="none" stroke="#141414" stroke-width="6.10" stroke-linecap="round" stroke-linejoin="round" />
<path d="M1454.5,186.7 C1455.8,187.9 1459.3,191.3 1462.0,194.0 C1464.7,196.7 1469.0,201.2 1470.4,202.6" fill="none" stroke="#141414" stroke-width="4.27" stroke-linecap="round" stroke-linejoin="round" />
<path d="M984.7,87.5 C987.5,87.2 995.8,86.3 1001.5,85.7 C1007.2,85.1 1014.1,84.9 1019.2,84.0 C1024.4,83.1 1029.0,82.3 1032.4,80.4 C1035.8,78.5 1037.4,75.1 1039.5,72.4 C1041.6,69.8 1043.0,67.7 1044.8,64.5 C1046.6,61.3 1047.7,57.1 1050.1,53.0 C1052.5,48.9 1055.7,43.5 1059.0,39.7 C1062.3,36.0 1066.2,33.0 1070.0,30.5 C1073.8,28.0 1077.5,25.9 1082.0,24.5 C1086.5,23.1 1092.0,22.1 1097.0,21.8 C1102.0,21.5 1107.0,21.7 1112.0,22.5 C1117.0,23.3 1121.3,24.1 1127.0,26.5 C1132.7,28.9 1140.9,33.7 1146.3,37.1 C1151.7,40.5 1155.8,43.4 1159.5,46.8 C1163.2,50.2 1166.3,54.8 1168.4,57.4 C1170.5,60.0 1171.4,61.6 1172.0,62.5" fill="none" stroke="#141414" stroke-width="4.03" stroke-linecap="round" stroke-linejoin="round" />
<path d="M1110.0,64.5 C1111.6,63.2 1116.0,58.1 1119.8,56.5 C1123.6,54.9 1127.8,54.6 1133.0,54.8 C1138.2,54.9 1144.8,56.4 1150.7,57.4 C1156.6,58.4 1163.2,59.7 1168.4,61.0 C1173.6,62.3 1178.4,63.8 1181.6,65.4 C1184.8,67.0 1186.1,67.8 1187.5,70.5 C1188.9,73.2 1189.5,77.3 1189.8,81.3 C1190.1,85.3 1189.9,91.4 1189.6,94.5 C1189.3,97.6 1189.0,96.9 1188.2,100.0 C1187.4,103.1 1186.5,108.9 1184.8,113.3 C1183.1,117.7 1180.7,122.4 1177.8,126.5 C1174.9,130.6 1170.6,134.3 1167.2,138.0 C1163.8,141.7 1159.8,146.2 1157.4,148.6 C1155.0,150.9 1153.7,151.5 1153.0,152.1" fill="none" stroke="#141414" stroke-width="4.03" stroke-linecap="round" stroke-linejoin="round" />
<path d="M1110.0,64.5 C1110.9,66.3 1113.5,70.8 1115.3,75.1 C1117.1,79.4 1119.0,85.4 1120.6,90.1 C1122.2,94.8 1123.6,98.1 1125.0,103.4 C1126.4,108.7 1127.0,116.3 1129.2,122.1 C1131.4,127.9 1134.9,133.6 1138.0,138.0 C1141.1,142.4 1145.2,146.2 1147.7,148.6 C1150.2,150.9 1152.1,151.5 1153.0,152.1" fill="none" stroke="#141414" stroke-width="4.03" stroke-linecap="round" stroke-linejoin="round" />
<path d="M1180.0,64.5 C1181.0,65.1 1184.5,66.4 1186.0,68.0 C1187.5,69.6 1188.5,73.0 1189.0,74.0" fill="none" stroke="#141414" stroke-width="6.10" stroke-linecap="round" stroke-linejoin="round" />
<path d="M979.4,94.5 C979.9,92.0 982.5,89.6 984.7,88.3 C986.9,87.0 989.5,86.3 992.7,86.6 C996.0,86.9 1001.6,88.0 1004.2,90.1 C1006.9,92.2 1008.0,96.3 1008.6,99.0 C1009.2,101.7 1008.9,104.2 1007.7,106.0 C1006.5,107.8 1004.3,109.0 1001.5,109.5 C998.7,110.0 994.1,109.7 990.9,108.7 C987.6,107.7 983.9,105.8 982.0,103.4 C980.1,101.0 978.9,97.0 979.4,94.5Z" fill="#231f20" />
<path d="M991.5,88.6 C992.6,88.4 995.7,88.0 997.5,89.8 C999.3,91.6 1001.8,97.5 1002.2,99.2 C1002.7,100.9 1002.1,101.4 1000.2,100.0 C998.3,98.6 992.2,92.9 990.8,91.0 C989.3,89.1 990.4,88.8 991.5,88.6Z" fill="#ffffff" />
<path d="M983.0,100.0 C983.1,102.0 983.6,108.9 983.8,112.0 C984.0,115.1 983.8,115.5 984.2,118.8 C984.7,122.1 984.8,128.0 986.5,132.1 C988.2,136.2 991.2,140.8 994.4,143.6 C997.6,146.4 1001.8,147.9 1005.9,148.9 C1010.0,149.9 1014.8,150.1 1019.2,149.8 C1023.6,149.5 1028.0,147.9 1032.4,147.1 C1036.8,146.3 1042.0,145.1 1045.7,144.9 C1049.4,144.7 1051.8,145.3 1054.5,145.8 C1057.2,146.3 1060.8,147.6 1062.0,148.0" fill="none" stroke="#141414" stroke-width="3.66" stroke-linecap="round" stroke-linejoin="round" />
<path d="M1045.7,135.6 C1045.9,136.3 1046.4,138.7 1047.0,140.0 C1047.6,141.3 1048.9,142.9 1049.3,143.5" fill="none" stroke="#141414" stroke-width="3.17" stroke-linecap="round" stroke-linejoin="round" />
<path d="M1017.4,151.0 C1017.8,152.0 1018.8,154.7 1020.0,156.8 C1021.2,158.9 1021.7,161.9 1024.5,163.5 C1027.3,165.1 1032.6,165.9 1036.9,166.4 C1041.2,166.9 1045.7,166.0 1050.1,166.6 C1054.5,167.2 1059.7,168.3 1063.4,170.1 C1067.1,171.9 1069.6,174.2 1072.2,177.2 C1074.8,180.1 1077.4,184.3 1079.3,187.8 C1081.2,191.3 1083.0,196.6 1083.7,198.4" fill="none" stroke="#141414" stroke-width="4.03" stroke-linecap="round" stroke-linejoin="round" />
<path d="M1079.3,187.8 C1080.0,189.6 1082.4,194.4 1083.7,198.4 C1085.0,202.4 1085.7,206.7 1087.2,211.6 C1088.7,216.5 1090.5,223.3 1092.5,228.0 C1094.5,232.7 1095.1,232.9 1098.9,239.5 C1102.7,246.1 1109.5,259.2 1115.4,267.8 C1121.3,276.4 1131.1,287.4 1134.2,291.3" fill="none" stroke="#141414" stroke-width="5.37" stroke-linecap="round" stroke-linejoin="round" />
<path d="M1115.4,267.8 C1118.5,271.7 1129.1,285.4 1134.2,291.3 C1139.3,297.2 1143.2,298.0 1146.0,303.1 C1148.8,308.2 1149.8,314.2 1151.0,322.0 C1152.2,329.8 1153.3,340.7 1153.5,350.0 C1153.7,359.3 1153.0,371.0 1152.0,378.0 C1151.0,385.0 1148.9,388.1 1147.5,392.0 C1146.1,395.9 1144.2,399.9 1143.5,401.5" fill="none" stroke="#141414" stroke-width="4.39" stroke-linecap="round" stroke-linejoin="round" />
<path d="M1047.5,88.3 C1047.1,86.4 1050.0,81.4 1051.9,78.6 C1053.8,75.8 1057.7,73.7 1059.0,71.6 C1060.3,69.5 1059.1,66.8 1059.5,66.0 C1059.9,65.2 1060.8,67.5 1061.5,67.0 C1062.2,66.5 1063.0,62.7 1063.4,62.7 C1063.8,62.7 1063.6,65.5 1064.0,67.0 C1064.4,68.5 1065.5,69.1 1066.0,71.6 C1066.5,74.1 1066.9,78.7 1066.9,82.2 C1066.9,85.7 1066.0,90.5 1066.0,92.8 C1066.0,95.1 1068.9,96.2 1067.0,95.8 C1065.1,95.3 1057.8,91.3 1054.5,90.1 C1051.2,88.8 1047.9,90.2 1047.5,88.3Z" fill="#1e1e1e" />
<path d="M1048.6,87.2 C1048.8,86.2 1050.8,81.7 1052.8,79.5 C1054.8,77.3 1059.2,74.8 1060.7,74.2 C1062.2,73.6 1063.3,73.9 1061.8,75.8 C1060.3,77.7 1054.1,83.8 1051.9,85.7 C1049.7,87.6 1048.4,88.2 1048.6,87.2Z" fill="#ffffff" />
<path d="M1069.5,49.8 C1070.4,49.2 1073.0,46.1 1074.8,46.2 C1076.6,46.3 1078.9,48.4 1080.2,50.3 C1081.5,52.2 1082.5,55.1 1082.6,57.4 C1082.7,59.7 1081.3,62.9 1081.0,64.0" fill="none" stroke="#141414" stroke-width="3.17" stroke-linecap="round" stroke-linejoin="round" />
<path d="M1181.3,130.0 C1182.2,132.1 1183.9,138.3 1186.6,142.4 C1189.2,146.5 1193.2,151.3 1197.2,154.8 C1201.2,158.3 1206.2,161.2 1210.5,163.6 C1214.8,166.0 1218.8,167.4 1223.0,169.0 C1227.2,170.6 1232.1,171.7 1236.0,173.0 C1239.9,174.3 1244.6,176.0 1246.3,176.6" fill="none" stroke="#141414" stroke-width="4.03" stroke-linecap="round" stroke-linejoin="round" />
<path d="M1246.3,176.6 C1250.0,176.6 1259.5,176.3 1268.4,176.6 C1277.4,176.9 1284.7,178.8 1300.0,178.3 C1315.3,177.8 1340.0,174.6 1360.0,173.8 C1380.0,173.0 1407.8,173.0 1420.0,173.4 C1432.2,173.8 1428.9,174.4 1433.3,176.0 C1437.7,177.6 1442.5,180.5 1446.5,182.7 C1450.5,184.9 1455.3,188.2 1457.1,189.3" fill="none" stroke="#141414" stroke-width="4.76" stroke-linecap="round" stroke-linejoin="round" />
<path d="M1446.5,182.7 C1448.3,183.8 1454.0,186.9 1457.1,189.3 C1460.2,191.7 1462.6,194.0 1465.0,197.3 C1467.4,200.6 1470.0,204.6 1471.7,209.2 C1473.4,213.8 1474.4,218.2 1475.3,225.0 C1476.2,231.8 1476.7,240.4 1477.0,250.0 C1477.3,259.6 1475.9,273.9 1477.3,282.8 C1478.7,291.7 1483.9,296.5 1485.6,303.4 C1487.3,310.3 1487.9,316.2 1487.6,324.0 C1487.3,331.8 1485.4,341.4 1484.0,350.0 C1482.6,358.6 1481.6,364.5 1479.4,375.6 C1477.2,386.7 1472.5,409.9 1471.1,416.8" fill="none" stroke="#141414" stroke-width="6.10" stroke-linecap="round" stroke-linejoin="round" />
<path d="M1230.0,327.5 C1232.4,327.1 1238.9,324.8 1244.2,324.8 C1249.5,324.8 1256.0,326.6 1261.9,327.5 C1267.8,328.4 1273.6,330.0 1279.5,330.1 C1285.4,330.2 1290.5,329.2 1297.2,328.4 C1304.0,327.6 1312.9,326.6 1320.0,325.5 C1327.1,324.4 1331.0,323.1 1340.0,321.5 C1349.0,319.9 1368.5,316.8 1374.2,315.8" fill="none" stroke="#141414" stroke-width="5.37" stroke-linecap="round" stroke-linejoin="round" />
<path d="M1121.3,289.0 C1121.7,293.3 1123.4,304.7 1123.6,314.9 C1123.8,325.1 1123.9,339.6 1122.5,350.2 C1121.1,360.8 1116.6,373.8 1115.4,378.5" fill="none" stroke="#141414" stroke-width="4.39" stroke-linecap="round" stroke-linejoin="round" />
<path d="M1106.0,385.6 C1102.8,386.0 1092.6,385.6 1087.1,388.0 C1081.6,390.4 1075.8,395.4 1073.0,399.7 C1070.2,404.0 1069.4,409.5 1070.6,413.8 C1071.8,418.1 1075.7,422.5 1080.0,425.6 C1084.3,428.8 1090.6,431.1 1096.5,432.7 C1102.4,434.3 1112.2,434.6 1115.4,435.0" fill="none" stroke="#141414" stroke-width="3.90" stroke-linecap="round" stroke-linejoin="round" />
<path d="M1084.3,403.0 C1083.2,404.0 1079.2,406.8 1077.5,409.0 C1075.8,411.2 1074.5,414.2 1074.2,416.5 C1073.9,418.8 1075.3,421.9 1075.5,423.0" fill="none" stroke="#141414" stroke-width="3.05" stroke-linecap="round" stroke-linejoin="round" />
<path d="M1092.0,411.5 C1091.2,412.4 1088.1,414.7 1087.0,417.0 C1085.9,419.3 1085.5,424.1 1085.2,425.5" fill="none" stroke="#141414" stroke-width="3.05" stroke-linecap="round" stroke-linejoin="round" />
<path d="M1129.5,416.2 C1127.9,418.2 1122.0,424.1 1120.0,428.0 C1118.0,431.9 1116.9,435.4 1117.7,439.7 C1118.5,444.0 1120.9,450.3 1124.8,453.9 C1128.7,457.4 1135.0,459.6 1141.3,461.0 C1147.6,462.4 1155.8,463.3 1162.5,462.1 C1169.2,460.9 1175.8,458.0 1181.3,453.9 C1186.8,449.8 1192.3,443.3 1195.5,437.4 C1198.7,431.5 1199.4,421.7 1200.2,418.6" fill="none" stroke="#141414" stroke-width="4.15" stroke-linecap="round" stroke-linejoin="round" />
<path d="M1128.3,429.7 C1127.3,430.8 1123.6,433.9 1122.5,436.0 C1121.4,438.1 1121.2,439.8 1121.5,442.0 C1121.8,444.2 1123.6,448.0 1124.0,449.2" fill="none" stroke="#141414" stroke-width="3.05" stroke-linecap="round" stroke-linejoin="round" />
<path d="M1136.7,435.2 C1135.8,436.1 1132.6,438.7 1131.5,440.5 C1130.4,442.3 1130.1,443.9 1130.0,446.0 C1129.9,448.1 1130.9,452.2 1131.1,453.4" fill="none" stroke="#141414" stroke-width="3.05" stroke-linecap="round" stroke-linejoin="round" />
<path d="M1216.7,291.3 C1217.7,295.2 1221.8,308.6 1222.6,314.9 C1223.4,321.2 1223.6,323.1 1221.4,329.0 C1219.2,334.9 1212.8,342.7 1209.6,350.2 C1206.4,357.7 1204.5,365.9 1202.5,373.8 C1200.5,381.7 1198.2,391.4 1197.8,397.3 C1197.4,403.2 1199.8,407.1 1200.2,409.1" fill="none" stroke="#141414" stroke-width="4.15" stroke-linecap="round" stroke-linejoin="round" />
<path d="M1378.4,270.4 C1377.9,273.7 1376.0,284.5 1375.5,290.0 C1375.0,295.5 1374.5,297.8 1375.5,303.3 C1376.5,308.8 1378.4,317.4 1381.6,323.1 C1384.8,328.8 1389.9,333.5 1394.8,337.7 C1399.7,341.9 1406.0,345.6 1410.7,348.3 C1415.4,351.0 1419.2,352.4 1422.7,353.6 C1426.2,354.8 1430.5,355.3 1432.0,355.6" fill="none" stroke="#141414" stroke-width="4.15" stroke-linecap="round" stroke-linejoin="round" />
<path d="M1367.7,325.8 C1367.9,328.7 1369.1,337.5 1369.0,343.0 C1368.9,348.5 1368.2,353.7 1367.0,359.0 C1365.8,364.3 1362.6,372.2 1361.7,374.8" fill="none" stroke="#141414" stroke-width="3.54" stroke-linecap="round" stroke-linejoin="round" />
<path d="M1351.0,381.5 C1348.6,381.9 1340.2,382.6 1336.5,384.1 C1332.8,385.6 1330.1,388.3 1328.6,390.7 C1327.0,393.1 1326.8,395.6 1327.2,398.7 C1327.6,401.8 1328.8,406.0 1331.2,409.3 C1333.6,412.6 1337.2,416.4 1341.8,418.6 C1346.4,420.8 1353.2,422.4 1359.0,422.6 C1364.8,422.8 1371.2,421.2 1376.3,419.9 C1381.4,418.6 1386.0,417.2 1389.5,414.6 C1393.0,412.0 1395.8,408.0 1397.5,404.0 C1399.2,400.0 1398.4,396.0 1399.5,390.7 C1400.6,385.4 1402.1,378.6 1404.0,372.0 C1405.9,365.4 1409.6,354.5 1410.7,351.0" fill="none" stroke="#141414" stroke-width="3.78" stroke-linecap="round" stroke-linejoin="round" />
<path d="M1339.5,393.5 C1338.5,394.4 1334.8,397.1 1333.5,399.0 C1332.2,400.9 1331.8,404.0 1331.5,405.0" fill="none" stroke="#141414" stroke-width="2.81" stroke-linecap="round" stroke-linejoin="round" />
<path d="M1347.0,401.0 C1346.3,402.0 1343.8,404.8 1343.0,407.0 C1342.2,409.2 1342.2,413.2 1342.0,414.5" fill="none" stroke="#141414" stroke-width="2.81" stroke-linecap="round" stroke-linejoin="round" />
<path d="M1422.7,355.0 C1422.5,359.2 1422.0,372.1 1421.5,380.0 C1421.0,387.9 1420.2,398.9 1420.0,402.7" fill="none" stroke="#141414" stroke-width="3.29" stroke-linecap="round" stroke-linejoin="round" />
<path d="M1416.0,406.6 C1412.5,407.5 1399.6,410.2 1394.8,412.0 C1390.0,413.8 1388.7,415.1 1386.9,417.3 C1385.1,419.5 1384.2,422.1 1384.2,425.2 C1384.2,428.3 1385.1,432.5 1386.9,435.8 C1388.7,439.1 1391.7,442.1 1394.8,445.0 C1397.9,447.9 1400.8,451.2 1405.4,453.0 C1410.1,454.8 1416.5,455.9 1422.7,455.7 C1428.9,455.5 1436.6,453.7 1442.6,451.7 C1448.6,449.7 1454.5,446.7 1458.5,443.8 C1462.5,440.9 1464.9,437.6 1466.4,434.5 C1467.9,431.4 1467.5,426.8 1467.7,425.2" fill="none" stroke="#141414" stroke-width="4.03" stroke-linecap="round" stroke-linejoin="round" />
<path d="M1397.5,422.6 C1396.4,423.7 1392.2,426.3 1390.9,429.2 C1389.6,432.1 1389.7,438.0 1389.5,439.8" fill="none" stroke="#141414" stroke-width="2.81" stroke-linecap="round" stroke-linejoin="round" />
<path d="M1409.4,429.2 C1408.1,430.5 1403.0,434.2 1401.5,437.1 C1400.0,440.0 1400.3,444.8 1400.1,446.4" fill="none" stroke="#141414" stroke-width="2.81" stroke-linecap="round" stroke-linejoin="round" />
<path d="M1191.9,119.4 C1194.3,121.7 1200.4,129.1 1206.5,133.3 C1212.6,137.5 1220.5,141.6 1228.6,144.7 C1236.7,147.8 1247.0,150.2 1255.1,151.8 C1263.2,153.4 1269.7,153.9 1277.2,154.5 C1284.7,155.1 1290.0,155.9 1300.0,155.3 C1310.0,154.7 1323.8,152.0 1337.5,151.0 C1351.2,150.0 1368.8,149.3 1382.5,149.5 C1396.2,149.7 1411.1,151.3 1420.0,152.2 C1428.9,153.1 1430.9,153.3 1436.0,154.9 C1441.1,156.5 1448.1,160.4 1450.5,161.5" fill="none" stroke="#1d5cb6" stroke-width="5.20" stroke-linecap="round" stroke-linejoin="round" />
<path d="M1199.0,107.5 C1196.6,110.8 1187.2,124.1 1184.8,127.4" fill="none" stroke="#1d5cb6" stroke-width="4.20" stroke-linecap="round" stroke-linejoin="round" />
<path d="M1458.5,152.2 C1457.0,156.2 1450.8,172.0 1449.2,176.0" fill="none" stroke="#1d5cb6" stroke-width="3.60" stroke-linecap="round" stroke-linejoin="round" />
<path d="M1182.2,137.1 C1179.3,137.8 1170.4,139.1 1165.0,141.0 C1159.6,142.9 1155.8,145.7 1150.0,148.5 C1144.2,151.3 1137.0,153.8 1130.0,158.0 C1123.0,162.2 1113.8,169.3 1108.0,174.0 C1102.2,178.7 1098.8,182.2 1095.0,186.0 C1091.2,189.8 1086.7,195.2 1085.0,197.0" fill="none" stroke="#1d5cb6" stroke-width="3.40" stroke-linecap="round" stroke-linejoin="round" stroke-dasharray="9 7" stroke-linecap="butt"/>
<path d="M1191.0,137.1 C1192.8,137.7 1199.4,137.9 1201.6,140.6 C1203.8,143.2 1204.4,148.6 1204.3,153.0 C1204.2,157.4 1202.6,163.1 1200.7,167.2 C1198.8,171.3 1195.9,174.5 1192.8,177.8 C1189.7,181.1 1183.8,185.5 1182.0,187.0" fill="none" stroke="#1d5cb6" stroke-width="2.60" stroke-linecap="round" stroke-linejoin="round" />
<polygon points="1174.2,194.0 1177.6,181.5 1186.2,192.5" fill="#1d5cb6"/>
<path d="M1078.7,206.0 C1078.3,207.1 1076.0,210.2 1076.2,212.5 C1076.4,214.8 1077.3,218.2 1080.0,220.0 C1082.7,221.8 1086.2,222.8 1092.5,223.0 C1098.8,223.2 1110.8,221.9 1117.5,221.0 C1124.2,220.1 1130.4,218.3 1133.0,217.8" fill="none" stroke="#1d5cb6" stroke-width="2.70" stroke-linecap="round" stroke-linejoin="round" />
<polygon points="1143.5,214.0 1130.5,210.0 1136.5,224.0" fill="#1d5cb6"/>
<path d="M1241.5,183.0 C1240.8,184.6 1239.0,188.8 1237.4,192.5 C1235.8,196.2 1233.7,200.4 1232.0,205.0 C1230.3,209.6 1228.6,214.2 1227.5,220.0 C1226.4,225.8 1225.5,234.2 1225.2,240.0 C1224.9,245.8 1225.2,249.4 1225.4,255.0 C1225.6,260.6 1225.7,267.4 1226.5,273.6 C1227.3,279.8 1228.5,285.8 1230.0,292.1 C1231.5,298.4 1233.4,306.3 1235.3,311.6 C1237.2,316.9 1240.5,321.9 1241.5,324.0" fill="none" stroke="#1d5cb6" stroke-width="3.20" stroke-linecap="round" stroke-linejoin="round" stroke-dasharray="10.5 7" stroke-linecap="butt"/>
<path d="M1246.3,174.8 C1247.8,173.0 1251.7,166.4 1255.1,164.2 C1258.5,162.0 1262.9,161.1 1266.6,161.5 C1270.3,161.9 1274.2,163.4 1277.2,166.8 C1280.2,170.2 1282.4,176.5 1284.3,181.9 C1286.2,187.3 1287.7,193.8 1288.7,199.5 C1289.7,205.2 1290.0,213.2 1290.2,216.0" fill="none" stroke="#1d5cb6" stroke-width="2.60" stroke-linecap="round" stroke-linejoin="round" />
<polygon points="1290.0,225.5 1283.0,216.2 1298.4,216.2" fill="#1d5cb6"/>
<path d="M1241.5,327.5 C1242.7,329.1 1245.5,334.4 1248.6,337.2 C1251.7,340.0 1256.6,343.9 1260.0,344.3 C1263.4,344.8 1266.2,343.3 1269.0,339.9 C1271.8,336.5 1274.6,329.1 1276.9,324.0 C1279.2,318.9 1281.3,313.7 1283.0,309.0 C1284.7,304.3 1286.5,298.2 1287.2,296.0" fill="none" stroke="#1d5cb6" stroke-width="2.60" stroke-linecap="round" stroke-linejoin="round" />
<polygon points="1288.4,286.5 1280.0,295.5 1296.0,297.0" fill="#1d5cb6"/>
<text x="0" y="133.3" font-family="Liberation Sans" font-size="38.5" fill="#1553aa" transform="translate(1228.70 0) scale(0.9823 1)">Back Length</text>
<text x="0" y="241.3" font-family="Liberation Sans" font-size="37.2" fill="#1553aa" transform="translate(990.14 0) scale(0.9712 1)">Neck</text>
<text x="0" y="265.4" font-family="Liberation Sans" font-size="38.0" fill="#1553aa" transform="translate(1233.58 0) scale(0.9927 1)">Chest Girth</text>
</svg>
</body></html>
